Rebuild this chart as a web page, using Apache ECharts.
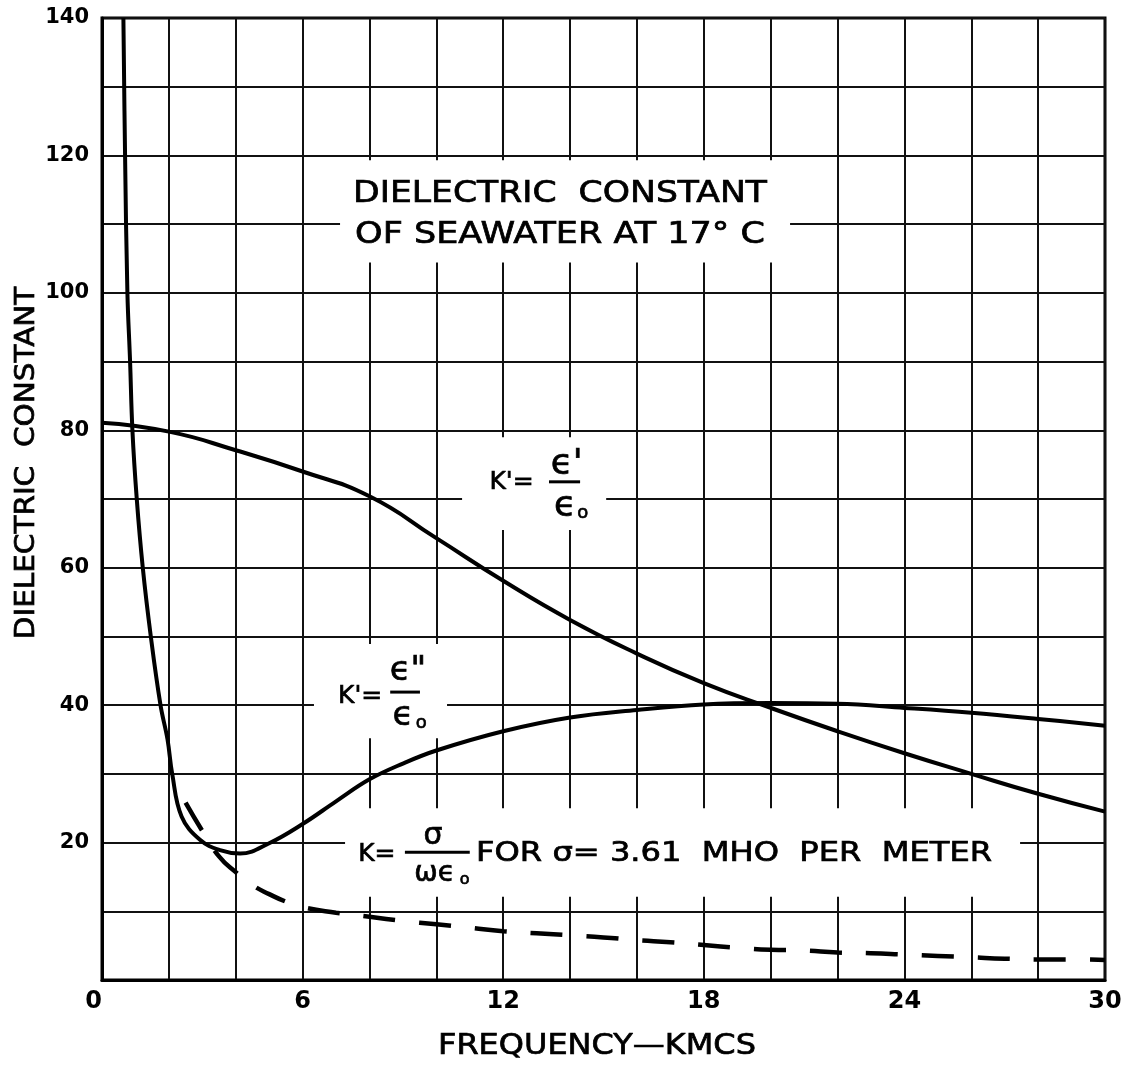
<!DOCTYPE html>
<html>
<head>
<meta charset="utf-8">
<title>Dielectric constant of seawater at 17 °C</title>
<script src="https://cdn.jsdelivr.net/npm/echarts@6/dist/echarts.min.js"></script>
<style>
  html, body { margin: 0; padding: 0; background: #fff; }
  #chart { width: 1133px; height: 1067px; }
</style>
</head>
<body>
<div id="chart"></div>
<script>
// Frequency in kMc/s on the x axis, dimensionless dielectric constant on the y axis.

// K' = ε'/ε0 (real part)
const realFreq = [0, 2, 4, 6, 8, 10, 12, 14, 16, 18, 20, 22, 24, 26, 28, 30];
const realK    = [81.1, 79.8, 77.1, 74.0, 70.4, 64.3, 58.1, 52.4, 47.5, 43.2, 39.6, 36.2, 33.0, 30.0, 27.1, 24.5];

// K'' = ε''/ε0 (loss factor)
const lossFreq = [0.64, 0.69, 0.76, 0.84, 0.91, 1.04, 1.22, 1.46, 1.75, 1.96, 2.1, 2.38, 2.93, 3.53, 4.13, 5, 6, 7, 8, 9, 10, 12, 14, 16, 18, 20, 22, 24, 26, 28, 30];
const lossK    = [140, 120, 100, 90, 80, 70, 60, 50, 40, 35, 30, 23.8, 20.4, 18.9, 18.4, 19.9, 22.7, 26.0, 29.2, 31.5, 33.4, 36.2, 38.2, 39.3, 40.1, 40.3, 40.2, 39.6, 38.9, 38.0, 37.0];

// K = σ/(ωε0) for σ = 3.61 mho per meter
const condFreq = [2.5, 3, 3.5, 4, 4.5, 5, 5.5, 6, 7, 8, 9, 10, 11, 12, 13, 14, 15, 16, 17, 18, 19, 20, 21, 22, 23, 24, 25, 26, 27, 28, 29, 30];
const condK    = [25.8, 21.7, 18.0, 15.7, 13.8, 12.5, 11.4, 10.6, 9.8, 9.2, 8.6, 8.1, 7.6, 7.1, 6.8, 6.5, 6.2, 5.8, 5.5, 5.1, 4.7, 4.4, 4.3, 4.0, 3.9, 3.7, 3.5, 3.3, 3.1, 3.0, 3.0, 2.9];

// Labelled ticks
const xTickLabels = [0, 6, 12, 18, 24, 30];
const yTickLabels = [20, 40, 60, 80, 100, 120, 140];

const pairs = (xs, ys) => xs.map((x, i) => [x, ys[i]]);

const FONT = '"DejaVu Sans", "Liberation Sans", sans-serif';
const INK = '#000';

const chart = echarts.init(document.getElementById('chart'), null, { renderer: 'canvas' });

chart.setOption({
  animation: false,
  backgroundColor: '#fff',
  grid: {
    left: 102, right: 28, top: 18, bottom: 87,
    show: true, borderColor: INK, borderWidth: 3, backgroundColor: 'transparent'
  },
  xAxis: {
    type: 'value', min: 0, max: 30, interval: 2,
    axisLine: { show: true, lineStyle: { color: INK, width: 3 } },
    axisTick: { show: false },
    splitLine: { show: true, lineStyle: { color: '#111', width: 2 } },
    axisLabel: {
      margin: 10, color: INK, fontFamily: FONT, fontWeight: 'bold', fontSize: 24,
      alignMinLabel: 'right',
      formatter: v => (xTickLabels.includes(v) ? String(v) : '')
    }
  },
  yAxis: {
    type: 'value', min: 0, max: 140, interval: 10,
    axisLine: { show: true, lineStyle: { color: INK, width: 3 } },
    axisTick: { show: false },
    splitLine: { show: true, lineStyle: { color: '#111', width: 2 } },
    axisLabel: {
      margin: 13, color: INK, fontFamily: FONT, fontWeight: 'bold', fontSize: 21,
      formatter: v => (yTickLabels.includes(v) ? String(v) : '')
    }
  },
  series: [
    {
      name: "K'", type: 'line', data: pairs(realFreq, realK),
      showSymbol: false, smooth: 0.5, z: 2,
      lineStyle: { color: INK, width: 4 }
    },
    {
      name: "K''", type: 'line', data: pairs(lossFreq, lossK),
      showSymbol: false, smooth: 0.4, z: 2,
      lineStyle: { color: INK, width: 4 }
    },
    {
      name: 'K', type: 'line', data: pairs(condFreq, condK),
      showSymbol: false, smooth: 0.5, z: 2,
      lineStyle: { color: INK, width: 4.5, type: [32, 24], cap: 'butt' }
    }
  ]
});

// ---- Annotations, anchored in axis units ----
const measureCtx = document.createElement('canvas').getContext('2d');
function textWidth(str, size, weight) {
  measureCtx.font = (weight || 'normal') + ' ' + size + 'px ' + FONT;
  return measureCtx.measureText(str).width;
}
const P = (x, y) => chart.convertToPixel({ gridIndex: 0 }, [x, y]);
const els = [];
const inkStyle = (str, size, align) => ({
  text: str, fontSize: size, fontFamily: FONT, fill: INK,
  stroke: INK, lineWidth: 0.7,
  align: align, textAlign: align, verticalAlign: 'middle', textVerticalAlign: 'middle'
});

function whiteBox(x0, y0, x1, y1) {
  const a = P(x0, y0), b = P(x1, y1);
  els.push({
    type: 'rect', z: 1, silent: true,
    shape: { x: Math.min(a[0], b[0]), y: Math.min(a[1], b[1]), width: Math.abs(b[0] - a[0]), height: Math.abs(b[1] - a[1]) },
    style: { fill: '#fff' }
  });
}
function textAt(str, x, y, size) {
  const p = P(x, y);
  els.push({ type: 'text', z: 3, silent: true, x: p[0], y: p[1], style: inkStyle(str, size, 'center') });
}
// text stretched horizontally so that it spans x0..x1
function textSpan(str, x0, x1, y, size) {
  const a = P(x0, y), b = P(x1, y);
  const s = (b[0] - a[0]) / textWidth(str, size);
  els.push({ type: 'text', z: 3, silent: true, x: a[0], y: a[1], scaleX: s, style: inkStyle(str, size, 'left') });
}
function fractionBar(x0, x1, y) {
  const a = P(x0, y), b = P(x1, y);
  els.push({
    type: 'line', z: 3, silent: true,
    shape: { x1: a[0], y1: a[1], x2: b[0], y2: b[1] },
    style: { stroke: INK, lineWidth: 3 }
  });
}

// Title
whiteBox(7.12, 119.3, 20.58, 104.4);
textSpan('DIELECTRIC  CONSTANT', 7.51, 19.89, 114.4, 30);
textSpan('OF SEAWATER AT 17\u00b0 C', 7.57, 19.83, 108.4, 30);

// K' = ε'/ε0
whiteBox(10.77, 79.0, 15.08, 65.5);
textAt("K'=", 12.25, 72.4, 25);
textAt("\u03f5'", 13.9, 75.0, 36);
fractionBar(13.37, 14.30, 72.5);
textAt('\u03f5', 13.85, 68.9, 36);
textAt('o', 14.38, 67.9, 18);

// K'' = ε''/ε0
whiteBox(6.34, 48.9, 10.32, 35.2);
textAt("K'=", 7.72, 41.3, 25);
textAt('\u03f5"', 9.15, 45.0, 34);
fractionBar(8.62, 9.51, 41.9);
textAt('\u03f5', 9.0, 38.4, 34);
textAt('o', 9.55, 37.4, 18);

// K = σ/(ωε0) for σ = 3.61 mho per meter
whiteBox(7.27, 25.0, 27.46, 12.1);
textAt('K=', 8.22, 18.3, 25);
textAt('\u03c3', 9.9, 20.9, 30);
fractionBar(9.06, 11.0, 18.6);
textAt('\u03c9\u03f5', 9.95, 15.5, 28);
textAt('o', 10.85, 14.6, 16);
textSpan('FOR \u03c3= 3.61  MHO  PER  METER', 11.19, 26.62, 18.3, 26);

// Horizontal axis title
textSpan('FREQUENCY\u2014KMCS', 10.05, 19.56, -9.75, 28);

// Vertical axis title
(function () {
  const top = P(0, 100.9), bottom = P(0, 49.6);
  const c = P(-2.24, (100.9 + 49.6) / 2);
  const str = 'DIELECTRIC  CONSTANT';
  const s = Math.abs(bottom[1] - top[1]) / textWidth(str, 26);
  els.push({
    type: 'text', z: 3, silent: true, x: c[0], y: c[1], rotation: Math.PI / 2, scaleX: s,
    style: inkStyle(str, 26, 'center')
  });
})();

chart.setOption({ graphic: { elements: els } });
</script>
</body>
</html>
